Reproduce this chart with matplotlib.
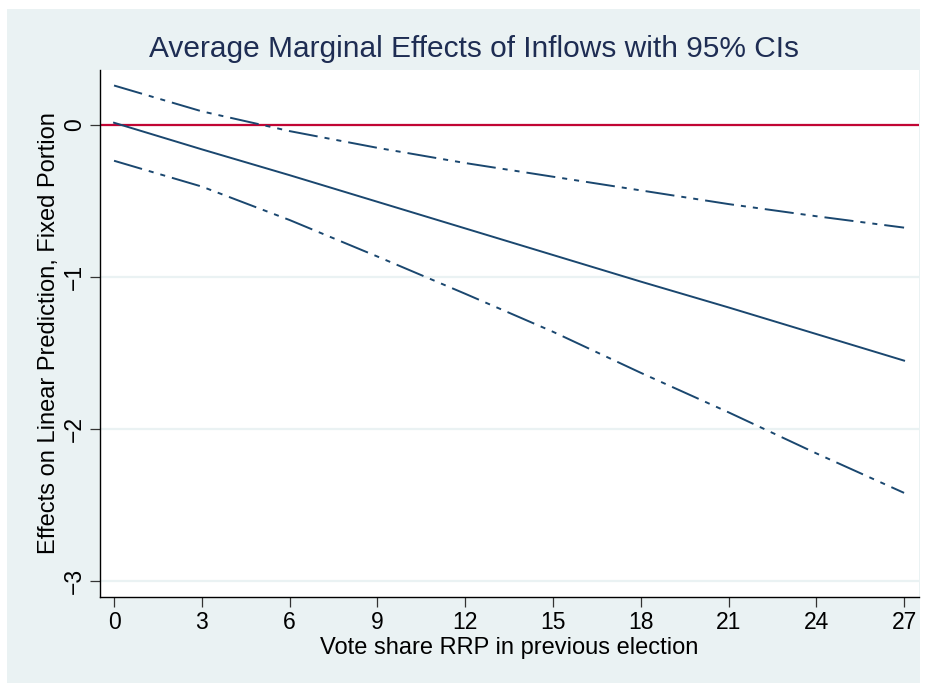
import numpy as np
import matplotlib
matplotlib.use("Agg")
import matplotlib.pyplot as plt
from matplotlib.patches import Rectangle

plt.rcParams["font.family"] = ["Liberation Sans", "DejaVu Sans"]

# ── Data: marginal effects evaluated every 3 points of vote share ────────────
vote_share = [0, 3, 6, 9, 12, 15, 18, 21, 24, 27]
effect     = [0.015, -0.16, -0.33, -0.505, -0.68, -0.855, -1.03, -1.20, -1.375, -1.55]
ci_upper   = [0.26, 0.09, -0.04, -0.15, -0.25, -0.34, -0.43, -0.52, -0.60, -0.675]
ci_lower   = [-0.235, -0.405, -0.625, -0.865, -1.11, -1.36, -1.63, -1.89, -2.16, -2.42]

x_ticks = [0, 3, 6, 9, 12, 15, 18, 21, 24, 27]
y_ticks = [0, -1, -2, -3]

NAVY   = "#1A476F"
RED    = "#C10534"
BG     = "#EAF2F3"
TITLE  = "#1E2D53"

W, H = 931, 683
fig = plt.figure(figsize=(W / 100, H / 100), dpi=100, facecolor="white")

# light graph region behind the plot
fig.patches.append(Rectangle((7 / W, 0), (920 - 7) / W, (H - 9) / H,
                             transform=fig.transFigure, facecolor=BG,
                             edgecolor="none", zorder=-5))

ax = fig.add_axes([100 / W, (H - 597) / H, (919 - 100) / W, (597 - 70) / H])
ax.set_zorder(2)
ax.set_facecolor("white")

ax.set_xlim(-0.48, 27.51)
ax.set_ylim(-3.105, 0.362)

for yv in y_ticks:
    ax.axhline(yv, color=BG, linewidth=1.6, zorder=1)
ax.axhline(0, color=RED, linewidth=1.6, zorder=2)

dashdot = (0, (15, 3.6, 2.6, 3.6, 2.6, 3.6))
ax.plot(vote_share, ci_upper, color=NAVY, linewidth=1.4, linestyle=dashdot, zorder=3)
ax.plot(vote_share, effect,   color=NAVY, linewidth=1.4, zorder=3)
ax.plot(vote_share, ci_lower, color=NAVY, linewidth=1.4, linestyle=dashdot, zorder=3)

for side in ("top", "right"):
    ax.spines[side].set_visible(False)
for side in ("left", "bottom"):
    ax.spines[side].set_color("black")
    ax.spines[side].set_linewidth(1.0)

ax.set_xticks(x_ticks)
ax.set_xticklabels([str(v) for v in x_ticks])
ax.set_yticks(y_ticks)
ax.set_yticklabels([f"{v}".replace("-", "\u2212") for v in y_ticks],
                   rotation=90, va="center")
ax.tick_params(axis="both", direction="out", length=7.2, width=0.9,
               color="#333333", labelsize=16.5, labelcolor="black")
ax.tick_params(axis="x", pad=3)
ax.tick_params(axis="y", pad=3)

ax.set_xlabel("Vote share RRP in previous election", fontsize=17, labelpad=2)
ax.set_ylabel("Effects on Linear Prediction, Fixed Portion", fontsize=17, labelpad=2)

fig.text(474 / W, (H - 57) / H, "Average Marginal Effects of Inflows with 95% CIs",
         ha="center", va="baseline", fontsize=21.5, color=TITLE)

fig.savefig("out.png", dpi=100, facecolor="white")
